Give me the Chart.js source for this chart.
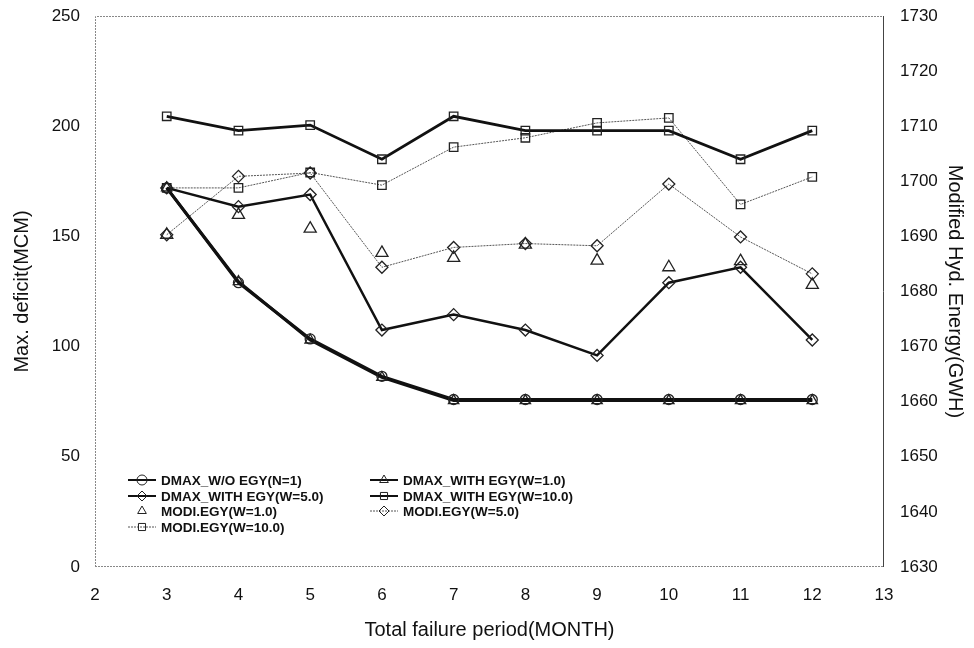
<!DOCTYPE html>
<html>
<head>
<meta charset="utf-8">
<script src="https://cdn.jsdelivr.net/npm/chart.js@4/dist/chart.umd.min.js"></script>
<style>
  html, body { margin:0; padding:0; background:#fff; }
  #wrap { width:974px; height:648px; }
</style>
</head>
<body>
<div id="wrap"><canvas id="chart" width="974" height="648"></canvas></div>
<script>
// months on the x axis
const months = [3, 4, 5, 6, 7, 8, 9, 10, 11, 12];

// left axis: max deficit (MCM)
const dmaxN1  = [172, 129, 103.5, 86.5, 76, 76, 76, 76, 76, 76];
const dmaxW1  = [172, 129.5, 103, 86, 75.5, 75.5, 75.5, 75.5, 75.5, 75.5];
const dmaxW5  = [172, 163.5, 169, 107.5, 114.5, 107.5, 96, 129, 136, 103];
const dmaxW10 = [204.5, 198, 200.5, 185, 204.5, 198, 198, 198, 185, 198];

// right axis: modified hydro energy (GWH)
const modiW1  = [1690.3, 1693.9, 1691.4, 1687.0, 1686.1, 1688.5, 1685.6, 1684.4, 1685.5, 1681.2];
const modiW5  = [1690.3, 1700.9, 1701.5, 1684.4, 1688.0, 1688.7, 1688.3, 1699.5, 1689.9, 1683.2];
const modiW10 = [1698.8, 1698.8, 1701.6, 1699.3, 1706.2, 1707.9, 1710.6, 1711.5, 1695.8, 1700.8];

const xTicks = [2, 3, 4, 5, 6, 7, 8, 9, 10, 11, 12, 13];

const pts = vals => months.map((m, i) => ({ x: m, y: vals[i] }));
const FONT = "'Liberation Sans', Arial, sans-serif";

function ds(label, vals, axis, style, width, lineColor, dash, showLine, radius){
  return {
    label, data: pts(vals), yAxisID: axis,
    borderColor: lineColor, borderWidth: width, borderDash: dash,
    showLine: showLine,
    pointStyle: style, pointRadius: radius,
    pointBorderColor: "#222", pointBackgroundColor: "rgba(255,255,255,0)",
    pointBorderWidth: 1.3, tension: 0
  };
}

const datasets = [
  ds("DMAX_W/O EGY(N=1)",    dmaxN1,  "y",  "circle",   3,   "#111", [],     true,  5),
  ds("DMAX_WITH EGY(W=1.0)", dmaxW1,  "y",  "triangle", 3,   "#111", [],     true,  6),
  ds("DMAX_WITH EGY(W=5.0)", dmaxW5,  "y",  "rectRot",  2.5, "#111", [],     true,  6),
  ds("DMAX_WITH EGY(W=10.0)",dmaxW10, "y",  "rect",     2.8, "#111", [],     true,  6),
  ds("MODI.EGY(W=1.0)",      modiW1,  "y2", "triangle", 1,   "#555", [],     false, 7),
  ds("MODI.EGY(W=5.0)",      modiW5,  "y2", "rectRot",  1,   "#555", [2, 1], true,  6),
  ds("MODI.EGY(W=10.0)",     modiW10, "y2", "rect",     1,   "#555", [2, 1], true,  6)
];

// frame around the plot area
const framePlugin = {
  id: "frame",
  afterDraw(chart){
    const { ctx, chartArea: a } = chart;
    ctx.save();
    ctx.strokeStyle = "#888";
    ctx.lineWidth = 1;
    ctx.setLineDash([2, 1]);
    ctx.beginPath();
    ctx.moveTo(a.left + 0.5, a.bottom); ctx.lineTo(a.left + 0.5, a.top + 0.5);
    ctx.lineTo(a.right, a.top + 0.5);
    ctx.moveTo(a.left, a.bottom - 0.5); ctx.lineTo(a.right, a.bottom - 0.5);
    ctx.stroke();
    ctx.setLineDash([]);
    ctx.strokeStyle = "#444";
    ctx.beginPath();
    ctx.moveTo(a.right - 0.5, a.top); ctx.lineTo(a.right - 0.5, a.bottom);
    ctx.stroke();
    ctx.restore();
  }
};

// legend drawn inside the plot area, bottom-left
const legendPlugin = {
  id: "insideLegend",
  afterDraw(chart){
    const { ctx } = chart;
    const slots = [
      [0, 128, 480], [1, 370, 480],
      [2, 128, 496], [3, 370, 496],
      [4, 128, 511], [5, 370, 511],
      [6, 128, 527]
    ];
    ctx.save();
    ctx.font = "bold 13.5px " + FONT;
    ctx.textBaseline = "middle";
    slots.forEach(([i, x, y]) => {
      const d = chart.data.datasets[i];
      if (d.showLine){
        ctx.strokeStyle = d.borderColor;
        ctx.lineWidth = Math.min(d.borderWidth, 2);
        ctx.setLineDash(d.borderDash || []);
        ctx.beginPath(); ctx.moveTo(x, y); ctx.lineTo(x + 28, y); ctx.stroke();
        ctx.setLineDash([]);
      }
      ctx.strokeStyle = "#222";
      ctx.lineWidth = 1;
      ctx.fillStyle = "rgba(255,255,255,0)";
      Chart.helpers.drawPoint(ctx, { pointStyle: d.pointStyle, radius: 5, borderWidth: 1 }, x + 14, y);
      ctx.fillStyle = "#111";
      ctx.fillText(d.label, x + 33, y + 1);
    });
    ctx.restore();
  }
};

const plainTick = v => String(v);
const fitY = w => s => { s.width = w; s.paddingTop = 8; s.paddingBottom = 8; };

new Chart(document.getElementById("chart").getContext("2d"), {
  type: "line",
  data: { datasets },
  plugins: [framePlugin, legendPlugin],
  options: {
    responsive: false,
    animation: false,
    layout: { padding: { top: 16, left: 0, right: 0, bottom: 0 } },
    plugins: { legend: { display: false }, tooltip: { enabled: false } },
    scales: {
      x: {
        type: "linear", min: 2, max: 13,
        afterBuildTicks: s => { s.ticks = xTicks.map(v => ({ value: v })); },
        afterFit: s => { s.height = 81; },
        grid: { display: false, drawTicks: false },
        border: { display: false },
        ticks: { padding: 18, color: "#111", font: { family: FONT, size: 17 }, callback: plainTick },
        title: { display: true, text: "Total failure period(MONTH)", color: "#111",
                 font: { family: FONT, size: 20 }, padding: { top: 0, bottom: 6 } }
      },
      y: {
        position: "left", min: 0, max: 250,
        ticks: { stepSize: 50, padding: 15, color: "#111", font: { family: FONT, size: 17 }, callback: plainTick },
        afterFit: fitY(95),
        grid: { display: false, drawTicks: false },
        border: { display: false },
        title: { display: true, text: "Max. deficit(MCM)", color: "#111",
                 font: { family: FONT, size: 20 }, padding: { top: 10, bottom: 0 } }
      },
      y2: {
        position: "right", min: 1630, max: 1730,
        ticks: { stepSize: 10, padding: 16, color: "#111", font: { family: FONT, size: 17 }, callback: plainTick },
        afterFit: fitY(90),
        grid: { display: false, drawTicks: false },
        border: { display: false },
        title: { display: true, text: "Modified Hyd. Energy(GWH)", color: "#111",
                 font: { family: FONT, size: 20 }, padding: { top: 7, bottom: 0 } }
      }
    }
  }
});
</script>
</body>
</html>
